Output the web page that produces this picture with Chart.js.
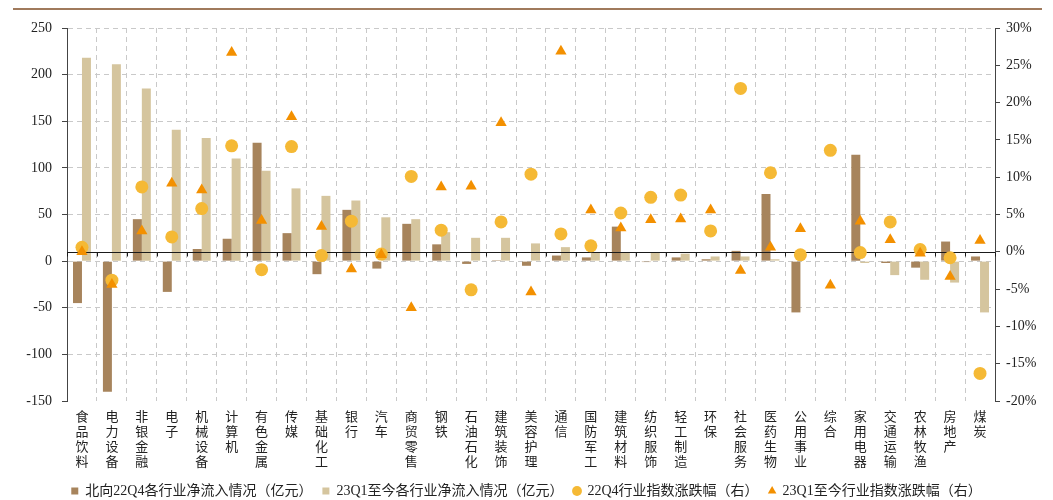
<!DOCTYPE html>
<html>
<head>
<meta charset="utf-8">
<script src="https://cdn.jsdelivr.net/npm/chart.js@4/dist/chart.umd.min.js"></script>
<style>
  html, body { margin: 0; padding: 0; background: #fff; }
  #wrap { position: relative; width: 1053px; height: 500px; }
  #rule { position: absolute; left: 13px; top: 8px; width: 1029px; height: 2px; background: #a07a5c; }
  canvas { position: absolute; left: 0; top: 0; }
</style>
</head>
<body>
<div id="wrap">
  <canvas id="chart" width="1053" height="500"></canvas>
  <div id="rule"></div>
</div>
<script>
// 申万一级行业
const industries = ['食品饮料','电力设备','非银金融','电子','机械设备','计算机','有色金属','传媒','基础化工','银行',
  '汽车','商贸零售','钢铁','石油石化','建筑装饰','美容护理','通信','国防军工','建筑材料','纺织服饰',
  '轻工制造','环保','社会服务','医药生物','公用事业','综合','家用电器','交通运输','农林牧渔','房地产','煤炭'];

// 北向资金净流入（亿元）
const netFlow22Q4 = [-45, -140, 45, -33, 13, 24, 127, 30, -14, 55,
  -8, 40, 18, -3, 1, -5, 6, 4, 37, -1,
  4, 2, 11, 72, -55, 0, 114, -2, -7, 21, 5];
const netFlow23Q1 = [218, 211, 185, 141, 132, 110, 97, 78, 70, 65,
  47, 45, 31, 25, 25, 19, 15, 9, 9, 9,
  8, 5, 5, 2, 0, 0, -2, -15, -20, -23, -55];

// 行业指数涨跌幅（%）
const indexChg22Q4 = [0.6, -3.8, 8.7, 2.0, 5.8, 14.2, -2.4, 14.1, -0.5, 4.1,
  -0.3, 10.1, 2.9, -5.1, 4.0, 10.4, 2.4, 0.8, 5.2, 7.3,
  7.6, 2.8, 21.9, 10.6, -0.4, 13.6, -0.1, 4.0, 0.3, -0.8, -16.3];
const indexChg23Q1 = [0.0, -4.4, 2.8, 9.2, 8.3, 26.7, 4.2, 18.1, 3.4, -2.3,
  -0.4, -7.5, 8.7, 8.8, 17.3, -5.4, 26.9, 5.6, 3.2, 4.3,
  4.4, 5.6, -2.5, 0.6, 3.1, -4.5, 4.1, 1.6, -0.2, -3.3, 1.5];

const seriesNames = ['北向22Q4各行业净流入情况（亿元）', '23Q1至今各行业净流入情况（亿元）',
  '22Q4行业指数涨跌幅（右）', '23Q1至今行业指数涨跌幅（右）'];

const C_DARK = '#a7845c', C_LIGHT = '#d5c59e', C_DOT = '#f5b935', C_TRI = '#f39000';
const serif = "'Liberation Serif', 'Noto Sans CJK SC', serif";
const cjk = "'Noto Sans CJK SC', sans-serif";

// 次坐标轴零线及分类刻度
const zeroAxis = {
  id: 'zeroAxis',
  beforeDatasetDraw(chart, args) {
    if (args.index !== 2) return;
    const { ctx, chartArea, scales } = chart;
    const y = Math.round(scales.y1.getPixelForValue(0)) + 0.5;
    ctx.save();
    ctx.strokeStyle = '#1a1a1a';
    ctx.lineWidth = 1;
    ctx.beginPath();
    ctx.moveTo(chartArea.left, y);
    ctx.lineTo(chartArea.right, y);
    for (let i = 0; i <= industries.length; i++) {
      const x = Math.round(scales.x.getPixelForValue(i - 0.5)) + 0.5;
      ctx.moveTo(x, y);
      ctx.lineTo(x, y + 4);
    }
    ctx.stroke();
    ctx.restore();
  }
};

const legendStyles = ['rect', 'rect', 'circle', 'triangle'];

new Chart(document.getElementById('chart'), {
  type: 'bar',
  data: {
    labels: industries.map(s => s.split('')),
    datasets: [
      { label: seriesNames[0], data: netFlow22Q4, backgroundColor: C_DARK, yAxisID: 'y', order: 10,
        categoryPercentage: 0.6, barPercentage: 1.0 },
      { label: seriesNames[1], data: netFlow23Q1, backgroundColor: C_LIGHT, yAxisID: 'y', order: 10,
        categoryPercentage: 0.6, barPercentage: 1.0 },
      { type: 'line', label: seriesNames[2], data: indexChg22Q4, yAxisID: 'y1', order: 5,
        showLine: false, pointStyle: 'circle', pointRadius: 6.5, pointBorderWidth: 0,
        backgroundColor: C_DOT, borderColor: C_DOT },
      { type: 'line', label: seriesNames[3], data: indexChg23Q1, yAxisID: 'y1', order: 1,
        showLine: false, pointStyle: 'triangle', pointRadius: 6.5, pointBorderWidth: 0,
        backgroundColor: C_TRI, borderColor: C_TRI }
    ]
  },
  options: {
    responsive: false,
    animation: false,
    layout: { padding: { left: 0, right: 0, top: 28, bottom: -8 } },
    plugins: {
      tooltip: { enabled: false },
      legend: {
        position: 'bottom',
        labels: {
          usePointStyle: true,
          boxWidth: 7,
          boxHeight: 7,
          padding: 10,
          color: '#222',
          font: { family: serif, size: 14 },
          sort: (a, b) => a.datasetIndex - b.datasetIndex,
          generateLabels(chart) {
            const items = Chart.defaults.plugins.legend.labels.generateLabels(chart);
            items.forEach(it => {
              const ds = chart.data.datasets[it.datasetIndex];
              it.pointStyle = legendStyles[it.datasetIndex];
              it.fillStyle = ds.backgroundColor;
              it.lineWidth = 0;
              it.strokeStyle = 'rgba(0,0,0,0)';
            });
            return items;
          }
        }
      }
    },
    scales: {
      x: {
        afterFit(s) { s.height = 73; },
        grid: {
          display: true, drawTicks: false, offset: true,
          color: '#c9c9c9', lineWidth: 1
        },
        border: { display: false, dash: [5, 4] },
        ticks: {
          maxRotation: 0, minRotation: 0, autoSkip: false, padding: 8,
          color: '#222',
          font: { family: cjk, size: 13, lineHeight: 1.15 }
        }
      },
      y: {
        position: 'left',
        min: -150, max: 250,
        afterFit(s) { s.width = 67; },
        ticks: { stepSize: 50, padding: 10, color: '#222', font: { family: serif, size: 14 } },
        grid: {
          color: ctx => (ctx.tick && ctx.tick.value === -150) ? 'rgba(0,0,0,0)' : '#c9c9c9',
          tickColor: '#444', tickLength: 5, lineWidth: 1
        },
        border: { display: true, color: '#444', width: 1, dash: [5, 4] }
      },
      y1: {
        position: 'right',
        min: -20, max: 30,
        afterFit(s) { s.width = 58; },
        ticks: { stepSize: 5, padding: 6, color: '#222', font: { family: serif, size: 14 },
          callback: v => v + '%' },
        grid: { drawOnChartArea: false, tickColor: '#444', tickLength: 5 },
        border: { display: true, color: '#444', width: 1 }
      }
    }
  },
  plugins: [zeroAxis]
});
</script>
</body>
</html>
